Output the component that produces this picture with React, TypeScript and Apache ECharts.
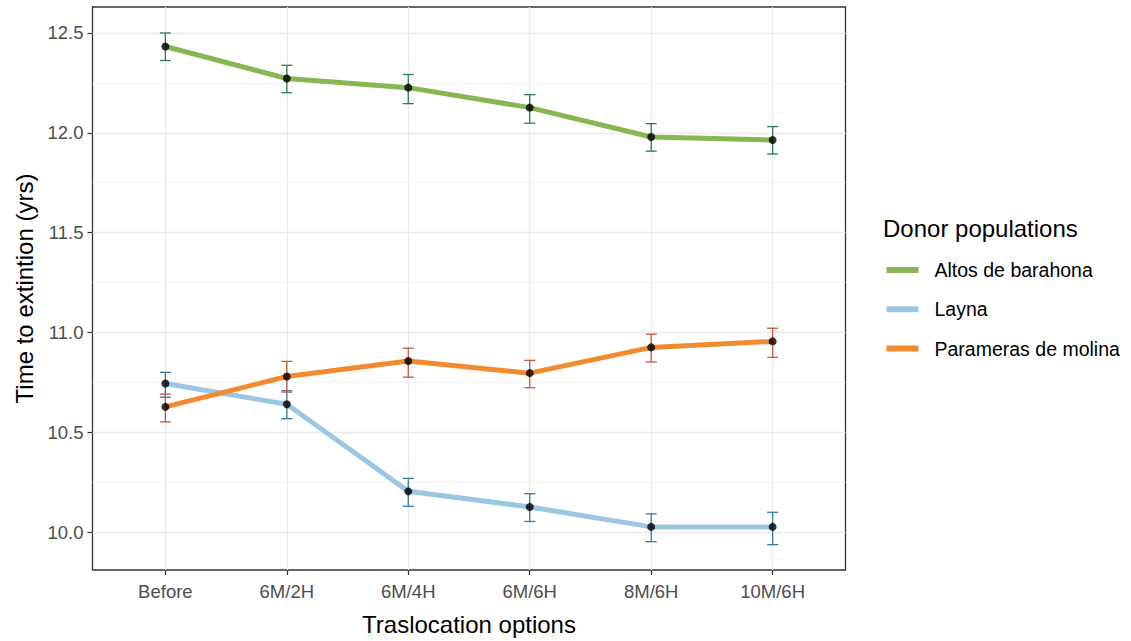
import React, { useEffect, useRef } from "react";
import * as echarts from "echarts";

const categories = ["Before", "6M/2H", "6M/4H", "6M/6H", "8M/6H", "10M/6H"];
const seriesNames = ["Altos de barahona", "Layna", "Parameras de molina"];

const altosMean = [12.432, 12.272, 12.226, 12.126, 11.979, 11.964];
const altosLow = [12.362, 12.201, 12.146, 12.048, 11.908, 11.894];
const altosHigh = [12.5, 12.338, 12.292, 12.191, 12.046, 12.031];

const laynaMean = [10.744, 10.640, 10.204, 10.126, 10.026, 10.026];
const laynaLow = [10.675, 10.568, 10.129, 10.053, 9.952, 9.937];
const laynaHigh = [10.800, 10.708, 10.269, 10.192, 10.091, 10.099];

const paramMean = [10.627, 10.779, 10.857, 10.796, 10.925, 10.955];
const paramLow = [10.552, 10.701, 10.776, 10.723, 10.852, 10.875];
const paramHigh = [10.691, 10.855, 10.921, 10.860, 10.991, 11.021];

const yTicks = [10, 10.5, 11, 11.5, 12, 12.5];
const yMinorTicks = [10.25, 10.75, 11.25, 11.75, 12.25];

const lineColors = ["#88B652", "#9CC7E3", "#F28A30"];
const errColors = ["#2F7A50", "#3C78A4", "#C8593F"];

const FONT = "'Liberation Sans', Arial, sans-serif";

export default function App() {
  const ref = useRef<HTMLDivElement>(null);
  useEffect(() => {
    if (!ref.current) return;
    const chart = echarts.init(ref.current, undefined, { renderer: "svg" });
    const means = [altosMean, laynaMean, paramMean];
    const lows = [altosLow, laynaLow, paramLow];
    const highs = [altosHigh, laynaHigh, paramHigh];

    const lineSeries = seriesNames.map((name, s) => ({
      name,
      type: "line",
      data: means[s].map((v, i) => [i, v]),
      showSymbol: false,
      symbol: "none",
      lineStyle: { color: lineColors[s], width: 5 },
      itemStyle: { color: lineColors[s] },
      z: 2,
    }));

    const errSeries = seriesNames.map((name, s) => ({
      name: name + " err",
      type: "custom",
      data: lows[s].map((lo, i) => [i, lo, highs[s][i]]),
      renderItem: (params: any, api: any) => {
        const x = api.value(0);
        const lo = api.coord([x, api.value(1)]);
        const hi = api.coord([x, api.value(2)]);
        const hw = 5.5;
        const style = { stroke: errColors[s], lineWidth: 1.3 };
        return {
          type: "group",
          children: [
            { type: "line", shape: { x1: lo[0], y1: lo[1], x2: hi[0], y2: hi[1] }, style },
            { type: "line", shape: { x1: lo[0] - hw, y1: lo[1], x2: lo[0] + hw, y2: lo[1] }, style },
            { type: "line", shape: { x1: hi[0] - hw, y1: hi[1], x2: hi[0] + hw, y2: hi[1] }, style },
          ],
        };
      },
      z: 3,
      silent: true,
    }));

    const pointSeries = seriesNames.map((name, s) => ({
      name: name + " pts",
      type: "scatter",
      data: means[s].map((v, i) => [i, v]),
      symbol: "circle",
      symbolSize: 8,
      itemStyle: { color: "#000000" },
      z: 4,
      silent: true,
    }));

    chart.setOption({
      animation: false,
      textStyle: { fontFamily: FONT },
      grid: { left: 92.5, right: 285.5, top: 7, bottom: 68, show: true, borderColor: "#333333", borderWidth: 1.3, backgroundColor: "transparent" },
      title: {
        text: "Donor populations",
        left: 883,
        top: 216,
        padding: 0,
        textStyle: { fontSize: 24, fontWeight: "normal", color: "#000000", fontFamily: FONT },
      },
      legend: {
        data: seriesNames,
        orient: "vertical",
        left: 886.5,
        top: 259,
        padding: 0,
        itemWidth: 32,
        itemHeight: 6,
        itemGap: 17.3,
        icon: "rect",
        textStyle: { fontSize: 19.5, color: "#000000", lineHeight: 22, padding: [0, 0, 0, 11], fontFamily: FONT },
      },
      xAxis: {
        type: "value",
        min: -0.6,
        max: 5.6,
        name: "Traslocation options",
        nameLocation: "middle",
        nameGap: 42,
        nameTextStyle: { fontSize: 24, color: "#000000", fontFamily: FONT },
        axisLine: { show: false, onZero: false },
        axisTick: { show: true, length: 5, lineStyle: { color: "#333333", width: 1.2 }, customValues: [0, 1, 2, 3, 4, 5] },
        axisLabel: {
          customValues: [0, 1, 2, 3, 4, 5],
          formatter: (v: number) => categories[Math.round(v)] ?? "",
          fontSize: 18.5,
          color: "#4D4D4D",
          margin: 12,
          fontFamily: FONT,
        },
        splitLine: { show: true, lineStyle: { color: "#EBEBEB", width: 1.3 } },
      },
      yAxis: [
        {
          type: "value",
          min: 9.81,
          max: 12.63,
          name: "Time to extintion (yrs)",
          nameLocation: "middle",
          nameGap: 56,
          nameTextStyle: { fontSize: 24, color: "#000000", fontFamily: FONT },
          axisLine: { show: false, onZero: false },
          axisTick: { show: true, length: 5, lineStyle: { color: "#333333", width: 1.2 }, customValues: yTicks },
          axisLabel: {
            customValues: yTicks,
            formatter: (v: number) => v.toFixed(1),
            fontSize: 18.5,
            color: "#4D4D4D",
            margin: 9,
            fontFamily: FONT,
          },
          splitLine: { show: true, lineStyle: { color: "#EBEBEB", width: 1.3 } },
        },
        {
          type: "value",
          min: 9.81,
          max: 12.63,
          position: "left",
          axisLine: { show: false, onZero: false },
          axisTick: { show: false, customValues: yMinorTicks },
          axisLabel: { show: false, customValues: yMinorTicks },
          splitLine: { show: true, lineStyle: { color: "#F2F2F2", width: 0.8 } },
        },
      ],
      series: [...lineSeries, ...errSeries, ...pointSeries],
    });
    return () => chart.dispose();
  }, []);
  return <div ref={ref} style={{ position: "fixed", left: 0, top: 0, width: 1131, height: 641, background: "#ffffff" }} />;
}
